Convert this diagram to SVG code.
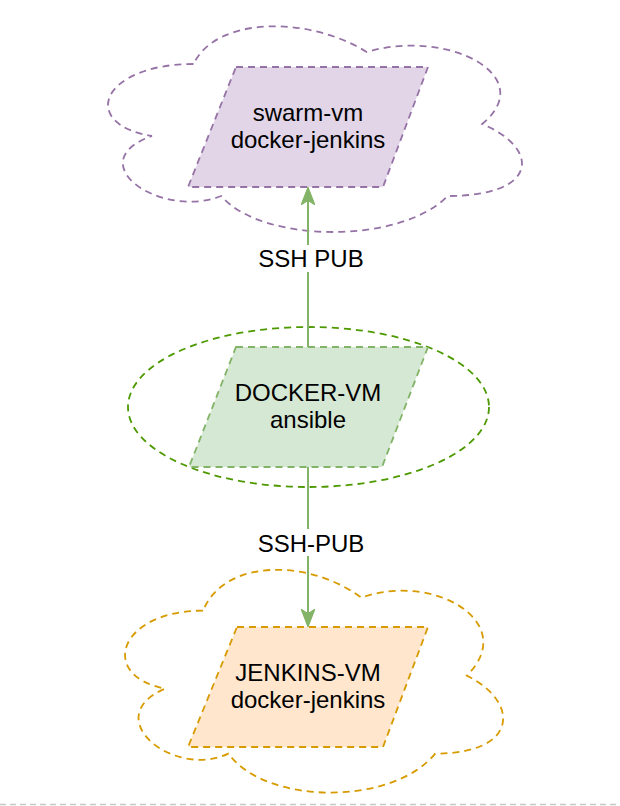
<svg xmlns="http://www.w3.org/2000/svg" width="620" height="806" viewBox="0 0 620 806">
<defs>
<style>
.t{font-family:"Liberation Sans",Arial,Helvetica,sans-serif;font-size:24px;fill:#000;text-anchor:middle}
.d{stroke-dasharray:7 5;stroke-width:1.8}
.conn{stroke:#82b366;stroke-width:2;fill:none}
</style>
<marker id="arr" viewBox="0 0 18 14" refX="17" refY="7" markerWidth="18" markerHeight="14" markerUnits="userSpaceOnUse" orient="auto">
<path d="M0,0 L18,7 L0,14 L4.5,7 Z" fill="#82b366" stroke="#82b366" stroke-width="1"/>
</marker>
</defs>
<rect width="620" height="806" fill="#fff"/>
<g id="cloud-top">
<path class="d" fill="none" stroke="#9673a6" transform="translate(78,4) scale(462,240)" vector-effect="non-scaling-stroke" d="M0.25,0.25 C0.05,0.25 0,0.5 0.16,0.55 C0,0.66 0.18,0.9 0.31,0.8 C0.4,1 0.7,1 0.8,0.8 C1,0.8 1,0.6 0.875,0.5 C1,0.3 0.8,0.1 0.625,0.2 C0.5,0.05 0.3,0.05 0.25,0.25 Z"/>
</g>
<g id="swarm-vm">
<path class="d" fill="#e1d5e7" stroke="#9673a6" d="M236,67 L428,67 L383,187 L188,187 Z"/>
<text class="t" x="308" y="121">swarm-vm</text>
<text class="t" x="308" y="148">docker-jenkins</text>
</g>
<g id="ellipse-mid">
<ellipse class="d" cx="308.5" cy="407" rx="180.5" ry="80" fill="none" stroke="#4d9900"/>
</g>
<g id="docker-vm">
<path class="d" fill="#d5e8d4" stroke="#82b366" d="M236,347 L428,347 L382,467 L189,467 Z"/>
<text class="t" x="308" y="401">DOCKER-VM</text>
<text class="t" x="308" y="428">ansible</text>
</g>
<g id="cloud-bottom">
<path class="d" fill="none" stroke="#d79b00" transform="translate(97.6,545.6) scale(422,260)" vector-effect="non-scaling-stroke" d="M0.25,0.25 C0.05,0.25 0,0.5 0.16,0.55 C0,0.66 0.18,0.9 0.31,0.8 C0.4,1 0.7,1 0.8,0.8 C1,0.8 1,0.6 0.875,0.5 C1,0.3 0.8,0.1 0.625,0.2 C0.5,0.05 0.3,0.05 0.25,0.25 Z"/>
</g>
<g id="jenkins-vm">
<path class="d" fill="#ffe6cc" stroke="#d79b00" d="M237,627 L428,627 L383,747 L188,747 Z"/>
<text class="t" x="308" y="681">JENKINS-VM</text>
<text class="t" x="308" y="708">docker-jenkins</text>
</g>
<g id="connectors">
<path class="conn" d="M308,347 L308,188" marker-end="url(#arr)"/>
<path class="conn" d="M308,467 L308,626" marker-end="url(#arr)"/>
<rect x="256" y="245" width="110" height="27" fill="#fff"/>
<text class="t" x="311" y="267">SSH PUB</text>
<rect x="254" y="529" width="114" height="27" fill="#fff"/>
<text class="t" x="311" y="552">SSH-PUB</text>
</g>
<line x1="0" y1="804.5" x2="620" y2="804.5" stroke="#c8c8c8" stroke-width="1.5" stroke-dasharray="6 4"/>
</svg>
